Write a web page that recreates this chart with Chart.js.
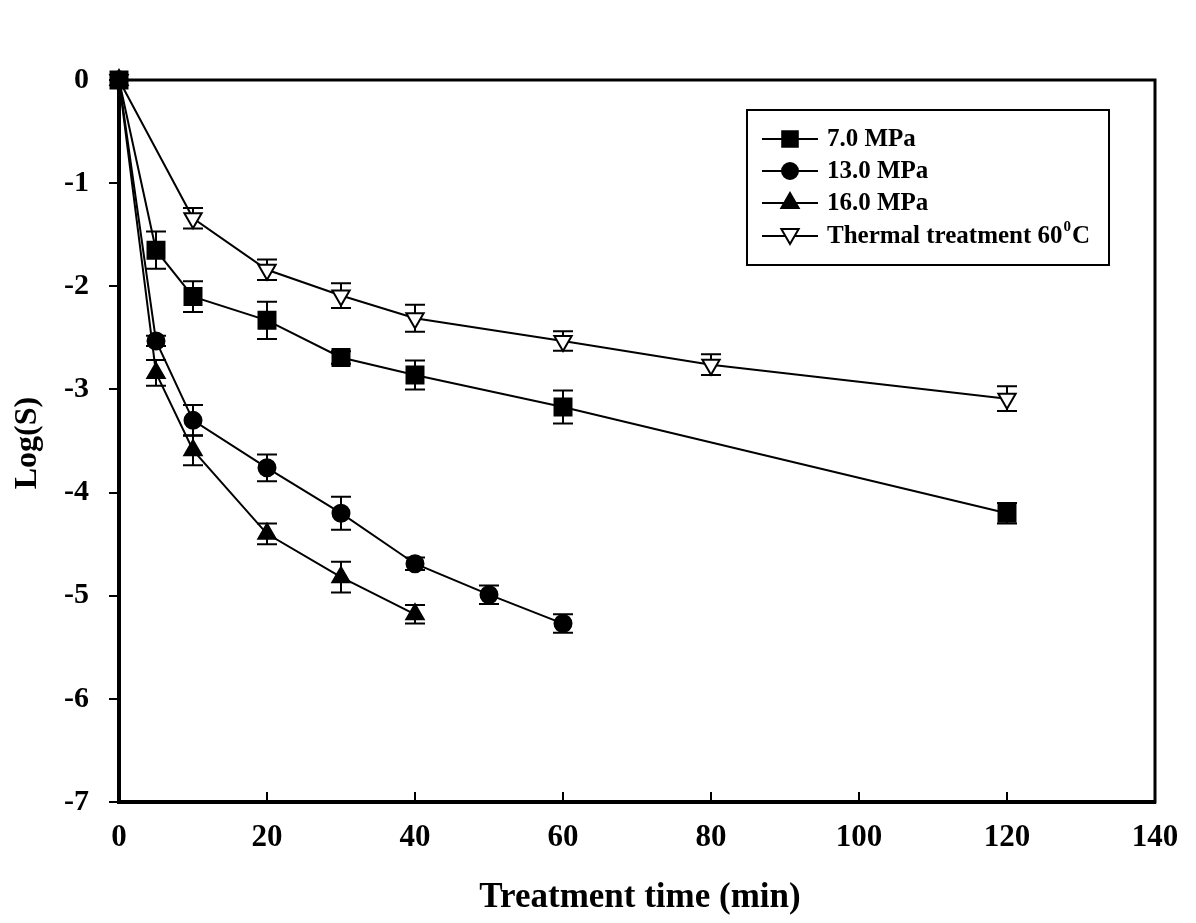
<!DOCTYPE html>
<html>
<head>
<meta charset="utf-8">
<script src="https://cdn.jsdelivr.net/npm/chart.js@4.4.1/dist/chart.umd.min.js"></script>
<style>
html,body{margin:0;padding:0;background:#fff;}
#wrap{width:1196px;height:923px;position:relative;}
</style>
</head>
<body>
<div id="wrap"><canvas id="c" width="1196" height="923"></canvas></div>
<script>
// ---- data ----
const t7  = [0, 5, 10, 20, 30, 40, 60, 120];
const y7  = [0, -1.65, -2.10, -2.33, -2.69, -2.86, -3.17, -4.20];
const e7  = [0, 0.18, 0.15, 0.18, 0.06, 0.14, 0.16, 0.10];

const t13 = [0, 5, 10, 20, 30, 40, 50, 60];
const y13 = [0, -2.53, -3.30, -3.76, -4.20, -4.69, -4.99, -5.27];
const e13 = [0, 0.05, 0.15, 0.13, 0.16, 0.06, 0.09, 0.09];

const t16 = [0, 5, 10, 20, 30, 40];
const y16 = [0, -2.84, -3.59, -4.40, -4.82, -5.18];
const e16 = [0, 0.125, 0.145, 0.10, 0.15, 0.09];

const tT  = [0, 10, 20, 30, 40, 60, 80, 120];
const yT  = [0, -1.34, -1.84, -2.09, -2.31, -2.53, -2.76, -3.09];
const eT  = [0, 0.10, 0.10, 0.12, 0.13, 0.095, 0.10, 0.12];

const seriesNames = ['7.0 MPa', '13.0 MPa', '16.0 MPa', 'Thermal treatment 60'];
const xTitle = 'Treatment time (min)';
const yTitle = 'Log(S)';

const FONT = '"Liberation Serif", "Times New Roman", serif';

function pts(t, y) { return t.map((v, i) => ({x: v, y: y[i]})); }

const styles = [
  {pointStyle: 'rect', radius: 12, rotation: 0, bg: '#000'},
  {pointStyle: 'circle', radius: 8.5, rotation: 0, bg: '#000'},
  {pointStyle: 'triangle', radius: 10, rotation: 0, bg: '#000'},
  {pointStyle: 'triangle', radius: 10, rotation: 180, bg: '#fff'}
];
const errs = [e7, e13, e16, eT];

const datasets = [pts(t7, y7), pts(t13, y13), pts(t16, y16), pts(tT, yT)].map((d, i) => ({
  label: seriesNames[i],
  data: d,
  borderColor: '#000',
  borderWidth: 2,
  backgroundColor: styles[i].bg,
  pointBackgroundColor: styles[i].bg,
  pointBorderColor: '#000',
  pointBorderWidth: 2,
  pointStyle: styles[i].pointStyle,
  pointRadius: styles[i].radius,
  pointRotation: styles[i].rotation,
  pointHoverRadius: styles[i].radius,
  tension: 0,
  fill: false,
  clip: false
}));

const errorBars = {
  id: 'errorBars',
  beforeDatasetsDraw(chart) {
    const ctx = chart.ctx, xs = chart.scales.x, ys = chart.scales.y;
    ctx.save();
    ctx.strokeStyle = '#000';
    ctx.lineWidth = 2;
    chart.data.datasets.forEach((ds, i) => {
      ds.data.forEach((p, j) => {
        const e = errs[i][j];
        if (!e) return;
        const px = xs.getPixelForValue(p.x);
        const y1 = ys.getPixelForValue(p.y + e), y2 = ys.getPixelForValue(p.y - e);
        ctx.beginPath();
        ctx.moveTo(px, y1); ctx.lineTo(px, y2);
        ctx.moveTo(px - 10, y1); ctx.lineTo(px + 10, y1);
        ctx.moveTo(px - 10, y2); ctx.lineTo(px + 10, y2);
        ctx.stroke();
      });
    });
    ctx.restore();
  }
};

function drawMarker(ctx, st, x, y) {
  ctx.save();
  ctx.fillStyle = st.bg; ctx.strokeStyle = '#000'; ctx.lineWidth = 2;
  ctx.beginPath();
  if (st.pointStyle === 'rect') {
    const s = st.radius * Math.SQRT1_2;
    ctx.rect(x - s, y - s, 2 * s, 2 * s);
  } else if (st.pointStyle === 'circle') {
    ctx.arc(x, y, st.radius, 0, Math.PI * 2);
  } else {
    let rad = st.rotation * Math.PI / 180;
    const r = st.radius;
    ctx.moveTo(x + Math.sin(rad) * r, y - Math.cos(rad) * r);
    rad += 2 * Math.PI / 3;
    ctx.lineTo(x + Math.sin(rad) * r, y - Math.cos(rad) * r);
    rad += 2 * Math.PI / 3;
    ctx.lineTo(x + Math.sin(rad) * r, y - Math.cos(rad) * r);
    ctx.closePath();
  }
  ctx.fill(); ctx.stroke();
  ctx.restore();
}

const frame = {
  id: 'frame',
  beforeDatasetsDraw(chart) {
    const ctx = chart.ctx, a = chart.chartArea, xs = chart.scales.x;
    ctx.save();
    ctx.strokeStyle = '#000';
    ctx.lineWidth = 3;
    ctx.strokeRect(a.left, a.top, a.right - a.left, a.bottom - a.top);
    ctx.lineWidth = 4;
    ctx.beginPath();
    ctx.moveTo(a.left, a.top - 1); ctx.lineTo(a.left, a.bottom + 2);
    ctx.moveTo(a.left - 2, a.bottom); ctx.lineTo(a.right + 1, a.bottom);
    ctx.stroke();
    ctx.lineWidth = 2;
    ctx.beginPath();
    xs.ticks.forEach(t => {
      const px = xs.getPixelForValue(t.value);
      if (t.value === 0) return;
      ctx.moveTo(px, a.bottom); ctx.lineTo(px, a.bottom - 10);
    });
    ctx.stroke();
    ctx.restore();
  },
  afterDraw(chart) {
    const ctx = chart.ctx;
    ctx.save();
    // titles
    ctx.fillStyle = '#000';
    ctx.font = 'bold 35px ' + FONT;
    ctx.textAlign = 'center'; ctx.textBaseline = 'middle';
    ctx.fillText(xTitle, 640, 898);
    ctx.save();
    ctx.translate(28, 443);
    ctx.rotate(-Math.PI / 2);
    ctx.font = 'bold 32px ' + FONT;
    ctx.fillText(yTitle, 0, 0);
    ctx.restore();

    // legend
    const L = {x: 747, y: 110, w: 362, h: 155};
    ctx.strokeStyle = '#000';
    ctx.lineWidth = 2;
    ctx.fillStyle = '#fff';
    ctx.fillRect(L.x, L.y, L.w, L.h);
    ctx.strokeRect(L.x, L.y, L.w, L.h);
    const rows = [139, 171, 203, 236];
    ctx.textAlign = 'left'; ctx.textBaseline = 'middle';
    rows.forEach((ry, i) => {
      ctx.strokeStyle = '#000'; ctx.lineWidth = 2;
      ctx.beginPath(); ctx.moveTo(762, ry); ctx.lineTo(818, ry); ctx.stroke();
      const st = Object.assign({}, styles[i]);
      if (st.pointStyle === 'rect') st.radius = 11;
      if (st.pointStyle === 'circle') st.radius = 8;
      drawMarker(ctx, st, 790, i === 3 ? ry - 2 : ry);
      ctx.fillStyle = '#000';
      ctx.font = 'bold 25px ' + FONT;
      ctx.fillText(seriesNames[i], 827, ry + 1);
      if (i === 3) {
        const w = ctx.measureText(seriesNames[i]).width;
        ctx.font = 'bold 15px ' + FONT;
        ctx.fillText('0', 827 + w + 1, ry - 9);
        const w2 = ctx.measureText('0').width;
        ctx.font = 'bold 25px ' + FONT;
        ctx.fillText('C', 827 + w + w2 + 2, ry + 1);
      }
    });
    ctx.restore();
  }
};

new Chart(document.getElementById('c'), {
  type: 'line',
  data: {datasets},
  options: {
    responsive: false,
    animation: false,
    devicePixelRatio: 1,
    layout: {padding: {left: 0, top: 80, right: 41, bottom: 0}},
    plugins: {legend: {display: false}, tooltip: {enabled: false}},
    scales: {
      x: {
        type: 'linear', min: 0, max: 140,
        ticks: {stepSize: 20, color: '#000', font: {family: FONT, size: 31, weight: 'bold'}, padding: 17, maxRotation: 0},
        grid: {display: true, drawOnChartArea: false, drawTicks: false, color: '#000'},
        border: {display: false},
        afterFit(s) { s.height = 923 - 802; }
      },
      y: {
        type: 'linear', min: -7, max: 0,
        ticks: {stepSize: 1, color: '#000', font: {family: FONT, size: 30, weight: 'bold'}, padding: 20},
        grid: {display: true, drawOnChartArea: false, drawTicks: true, tickLength: 10, tickWidth: 2, color: '#000', lineWidth: 2},
        border: {display: false},
        afterFit(s) { s.width = 119; }
      }
    }
  },
  plugins: [errorBars, frame]
});
</script>
</body>
</html>
